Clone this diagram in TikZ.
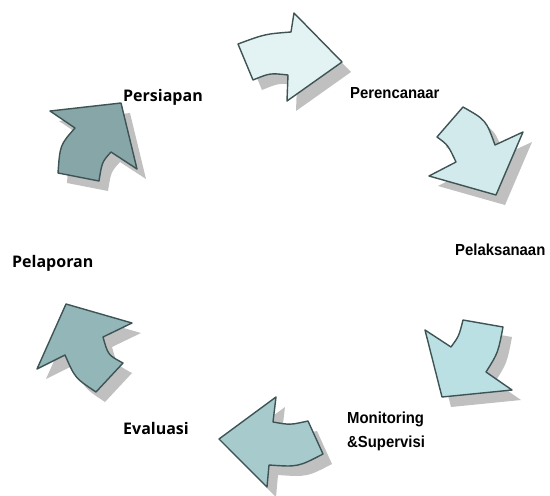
\documentclass[tikz,border=0pt]{standalone}
\usepackage{fontspec}
\usepackage{tikz}
\newfontfamily\armfont{Liberation Sans}
\newfontfamily\humfont{Open Sans}
\newcommand\narrowlbl[1]{\scalebox{.93}[1]{#1}}
\definecolor{edgec}{HTML}{3E5354}
\definecolor{shadowc}{HTML}{C0C0C0}
\definecolor{fillone}{HTML}{E3F3F3}
\definecolor{filltwo}{HTML}{D2EAEB}
\definecolor{fillthree}{HTML}{BBE0E3}
\definecolor{fillfour}{HTML}{A7CBCD}
\definecolor{fillfive}{HTML}{93B6B8}
\definecolor{fillsix}{HTML}{87A6A7}
\def\arrowone{(238,44) .. controls (265,34) .. (291,32) -- (294,13) -- (342,62) -- (287,101) -- (288,75) .. controls (270,73) .. (253,80) -- cycle}
\def\arrowtwo{(463,107) .. controls (486,120) .. (495,145) -- (523,132) -- (496,195) -- (429,176) -- (456,162) .. controls (448,145) .. (437,137) -- cycle}
\def\arrowthree{(463,320) -- (503,327) .. controls (498,353) .. (486,372) -- (512,390) -- (442,397) -- (425,330) -- (451,347) .. controls (459,336) .. cycle}
\def\arrowfour{(276,397) -- (219,439) -- (267,487) -- (269,465) .. controls (298,467) .. (323,454) -- (308,421) .. controls (290,425) .. (273,422) -- cycle}
\def\arrowfive{(66,304) -- (132,323) -- (103,337) .. controls (108,355) .. (123,363) -- (96,392) .. controls (75,378) .. (65,355) -- (37,369) -- cycle}
\def\arrowsix{(50,111) -- (121,103) -- (137,169) -- (111,152) .. controls (102,162) .. (99,181) -- (58,173) .. controls (60,145) .. (75,128) -- cycle}

\begin{document}
\begin{tikzpicture}[x=1pt,y=-1pt,
    shade/.style={fill=shadowc,shift={(9,10)}},
    blockarrow/.style={draw=edgec,line width=1.4pt,line join=round},
    armlbl/.style={anchor=base west,inner sep=0pt,font=\armfont\bfseries\fontsize{16}{19}\selectfont},
    humlbl/.style={anchor=base west,inner sep=0pt,font=\humfont\bfseries\fontsize{16}{19}\selectfont}]
      \useasboundingbox (0,0) rectangle (550,496);
      % shadows first
      \foreach \p in {\arrowone,\arrowtwo,\arrowthree,\arrowfour,\arrowfive,\arrowsix}
        \fill[shade] \p;
      \draw[blockarrow,fill=fillone] \arrowone;
      \draw[blockarrow,fill=filltwo] \arrowtwo;
      \draw[blockarrow,fill=fillthree] \arrowthree;
      \draw[blockarrow,fill=fillfour] \arrowfour;
      \draw[blockarrow,fill=fillfive] \arrowfive;
      \draw[blockarrow,fill=fillsix] \arrowsix;
      % labels
      \node[humlbl] (persiapan) at (123,101) {Persiapan};
      \node[armlbl] (perencanaan) at (350,98) {\narrowlbl{Perencanaar}};
      \node[armlbl] (pelaksanaan) at (455,255) {\narrowlbl{Pelaksanaan}};
      \node[armlbl] (monitoring) at (347,423) {\narrowlbl{Monitoring}};
      \node[armlbl] (supervisi) at (347,447) {\narrowlbl{\&Supervisi}};
      \node[humlbl] (evaluasi) at (123,434) {Evaluasi};
      \node[humlbl] (pelaporan) at (12,267) {Pelaporan};
    \end{tikzpicture}
\end{document}
